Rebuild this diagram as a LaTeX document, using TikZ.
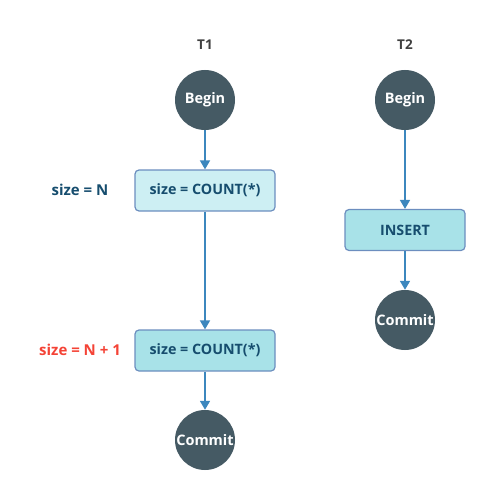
\documentclass[tikz,border=0pt]{standalone}
\usepackage{fontspec}
\setmainfont{Open Sans}
\usetikzlibrary{arrows.meta}
\definecolor{circfill}{HTML}{455A64}
\definecolor{boxedge}{HTML}{6C8EBF}
\definecolor{boxlight}{HTML}{CDEFF3}
\definecolor{boxdark}{HTML}{A8E2E8}
\definecolor{txtblue}{HTML}{164D6E}
\definecolor{arrowc}{HTML}{3C87BE}
\definecolor{redc}{HTML}{F44336}
\tikzset{
  circ/.style={circle,fill=circfill,minimum size=60pt,inner sep=0pt,text=white,font=\bfseries\fontsize{14.5}{16}\selectfont},
  opbox/.style={rectangle,rounded corners=4pt,draw=boxedge,line width=1.2pt,text=txtblue,font=\bfseries\fontsize{14.3}{16}\selectfont,minimum height=41pt},
  title/.style={text=black!75,font=\bfseries\fontsize{13.5}{15}\selectfont},
  lbl/.style={font=\bfseries\fontsize{15}{16}\selectfont},
  conn/.style={draw=arrowc,line width=1.6pt,-{Triangle[length=9pt,width=10pt]}}
}
\begin{document}
\begin{tikzpicture}[x=1pt,y=-1pt]
\useasboundingbox (0,0) rectangle (496,500);
\node[title] (t1) at (205,45) {T1};
\node[title] (t2) at (405,45) {T2};
\node[circ] (b1) at (205,100) {Begin};
\node[circ] (b2) at (405,100) {Begin};
\node[opbox,fill=boxlight,minimum width=140pt] (c1) at (205,190.5) {size = COUNT(*)};
\node[opbox,fill=boxdark,minimum width=140pt] (c2) at (205,350.5) {size = COUNT(*)};
\node[circ] (m1) at (205,440) {Commit};
\node[opbox,fill=boxdark,minimum width=120pt] (ins) at (405,230) {INSERT};
\node[circ] (m2) at (405,320) {Commit};
\node[lbl,text=txtblue] (l1) at (80,190) {size = N};
\node[lbl,text=redc] (l2) at (80,350) {size = N + 1};
\draw[conn] (b1) -- (c1);
\draw[conn] (c1) -- (c2);
\draw[conn] (c2) -- (m1);
\draw[conn] (b2) -- (ins);
\draw[conn] (ins) -- (m2);
\end{tikzpicture}
\end{document}
